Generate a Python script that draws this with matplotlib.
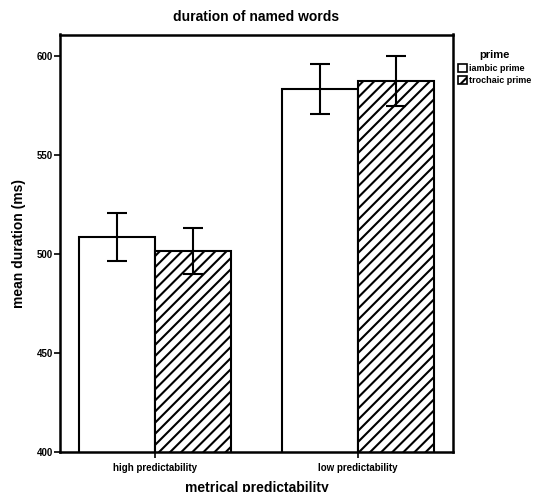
import numpy as np
import matplotlib
matplotlib.use("Agg")
import matplotlib.pyplot as plt
from matplotlib.patches import Patch

plt.rcParams['font.family'] = ['Liberation Sans', 'DejaVu Sans']
plt.rcParams['font.weight'] = 'bold'
plt.rcParams['hatch.linewidth'] = 1.5

groups = ["high predictability", "low predictability"]
primes = ["iambic prime", "trochaic prime"]
iambic = [508.5, 583.3]
iambic_err = [12.0, 12.8]
trochaic = [501.6, 587.3]
trochaic_err = [11.4, 12.8]

fig = plt.figure(figsize=(5.38, 4.92), dpi=100)
ax = fig.add_axes([60/538, 1-452.3/492, 393/538, (452.3-34.5)/492])

x = np.arange(len(groups))
w = 0.372
ax.bar(x - w/2, iambic, w, color='white', edgecolor='black', linewidth=1.5)
ax.bar(x + w/2, trochaic, w, color='white', edgecolor='black', linewidth=1.5, hatch='///')
ax.errorbar(x - w/2, iambic, yerr=iambic_err, fmt='none', ecolor='black', elinewidth=1.5,
            capsize=7, capthick=1.5)
ax.errorbar(x + w/2, trochaic, yerr=trochaic_err, fmt='none', ecolor='black', elinewidth=1.5,
            capsize=7, capthick=1.5)

ax.set_ylim(400, 610.8)
ax.set_xlim(-0.468, 1.468)
ax.set_yticks([400, 450, 500, 550, 600])
ax.set_xticks(x)
ax.set_xticklabels(groups)
ax.tick_params(axis='both', labelsize=7, length=4, width=1.2, direction='out')
ax.tick_params(axis='y', pad=1)
for s in ax.spines.values():
    s.set_linewidth(1.8)

ax.set_title("duration of named words", fontsize=10, fontweight='bold', pad=10)
ax.set_ylabel("mean duration (ms)", fontsize=10, fontweight='bold', labelpad=8)
ax.set_xlabel("metrical predictability", fontsize=10, fontweight='bold', labelpad=6)

handles = [Patch(facecolor='white', edgecolor='black', linewidth=1.2),
           Patch(facecolor='white', edgecolor='black', linewidth=1.2, hatch='///')]
leg = ax.legend(handles, primes, title="prime", loc='upper left', bbox_to_anchor=(1.0, 0.975),
                frameon=False, fontsize=6.5, title_fontsize=8, handlelength=1.0, handleheight=1.0,
                handletextpad=0.2, borderaxespad=0.2, labelspacing=0.35)
leg.get_title().set_fontweight('bold')

fig.savefig("out.png", dpi=100)
